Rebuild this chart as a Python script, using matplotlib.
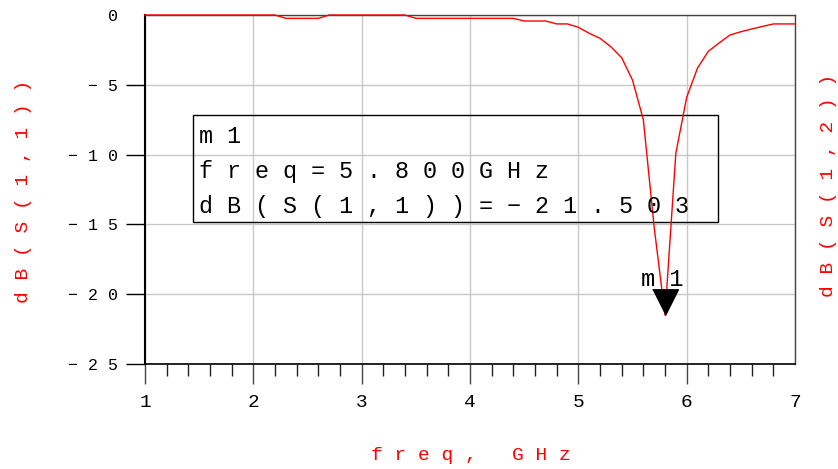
import numpy as np
import matplotlib
matplotlib.use("Agg")
import matplotlib.pyplot as plt
from matplotlib.patches import Rectangle
from matplotlib.ticker import MultipleLocator

# S11 sweep (breakpoints of the trace)
freq_ghz = [1.0, 2.2, 2.3, 2.6, 2.7, 3.4, 3.5, 4.4, 4.5, 4.7, 4.8, 4.9, 5.0,
            5.1, 5.2, 5.3, 5.4, 5.5, 5.6, 5.7, 5.8, 5.9, 6.0, 6.1, 6.2, 6.3,
            6.4, 6.5, 6.6, 6.7, 6.8, 7.0]
s11_db = [0.0, 0.0, -0.24, -0.24, 0.0, 0.0, -0.24, -0.24, -0.43, -0.43,
          -0.64, -0.64, -0.88, -1.31, -1.67, -2.27, -3.06, -4.66, -7.5,
          -15.2, -21.503, -9.9, -5.9, -3.8, -2.6, -2.0, -1.43, -1.2, -1.0,
          -0.82, -0.64, -0.64]

# marker m1
m_name = "m1"
m_freq = 5.8
m_db = -21.503

xticks = [1, 2, 3, 4, 5, 6, 7]
yticks = [-25, -20, -15, -10, -5, 0]

RED = "#ff0000"
MONO = ["Liberation Mono", "DejaVu Sans Mono"]


def spaced(s):
    # ADS style wide letter spacing
    return " ".join(s)


fig = plt.figure(figsize=(8.38, 4.69), dpi=100)
ax = fig.add_axes([145 / 838, 1 - 364 / 469, 650 / 838, 349 / 469])

ax.plot(freq_ghz, s11_db, color=RED, lw=1.0, clip_on=False, zorder=4)

ax.set_xlim(1, 7)
ax.set_ylim(-25, 0)
ax.set_xticks(xticks)
ax.set_xticklabels([str(t) for t in xticks], fontfamily=MONO, fontsize=14)
ax.set_yticks(yticks)
ax.set_yticklabels([spaced(str(t).replace("-", "\u2212")) for t in yticks],
                   fontfamily=MONO, fontsize=12)
ax.xaxis.set_minor_locator(MultipleLocator(0.2))

ax.grid(True, which="major", color="#c8c8c8", lw=1.0)
ax.set_axisbelow(True)

ax.tick_params(axis="y", which="major", length=13.7, width=1, color="black",
               pad=6, direction="out")
ax.tick_params(axis="x", which="major", length=14.4, width=1, color="#444444",
               pad=7, direction="out")
ax.tick_params(axis="x", which="minor", length=8.6, width=1, color="#222222",
               direction="out")

# no tick line at 0 dB and at 7 GHz
ax.yaxis.get_major_ticks()[-1].tick1line.set_visible(False)
ax.xaxis.get_major_ticks()[-1].tick1line.set_visible(False)

ax.spines["left"].set_color("black")
ax.spines["left"].set_linewidth(1.5)
ax.spines["bottom"].set_color("black")
ax.spines["bottom"].set_linewidth(1.2)
for s in ["top", "right"]:
    ax.spines[s].set_color("#444444")
    ax.spines[s].set_linewidth(1.0)

# marker readout box
ax.add_patch(Rectangle((0.0738, 0.4069), 0.8077, 0.3066, transform=ax.transAxes,
                       fill=False, edgecolor="black", lw=1.0, zorder=3))
box_lines = [m_name, "freq=%.3fGHz" % m_freq, "dB(S(1,1))=%.3f" % m_db]
for i, line in enumerate(box_lines):
    ax.text(0.083, 0.633 - i * 0.1, spaced(line.replace("-", "\u2212")),
            transform=ax.transAxes, fontfamily=MONO, fontsize=16.8,
            va="baseline", ha="left", color="black", zorder=5)

# marker triangle, tip on the point
ax.plot([m_freq], [m_db], marker=[(-1, 2), (1, 2), (0, 0)], ms=37,
        color="black", mec="black", clip_on=False, zorder=6)
ax.annotate(spaced(m_name), (m_freq, m_db), xytext=(-3, 29),
            textcoords="offset pixels", ha="center", va="baseline",
            fontfamily=MONO, fontsize=17, color="black", zorder=6)

# axis titles
fig.text(471 / 838, 1 - 455 / 469, spaced("freq, GHz"), color=RED,
         fontfamily=MONO, fontsize=14, ha="center", va="center")
fig.text(24 / 838, 1 - 191 / 469, spaced("dB(S(1,1))"), color=RED,
         fontfamily=MONO, fontsize=14, ha="center", va="center", rotation=90)
fig.text(828 / 838, 1 - 185 / 469, spaced("dB(S(1,2))"), color=RED,
         fontfamily=MONO, fontsize=14, ha="center", va="center", rotation=90)

fig.savefig("out.png", dpi=100)
